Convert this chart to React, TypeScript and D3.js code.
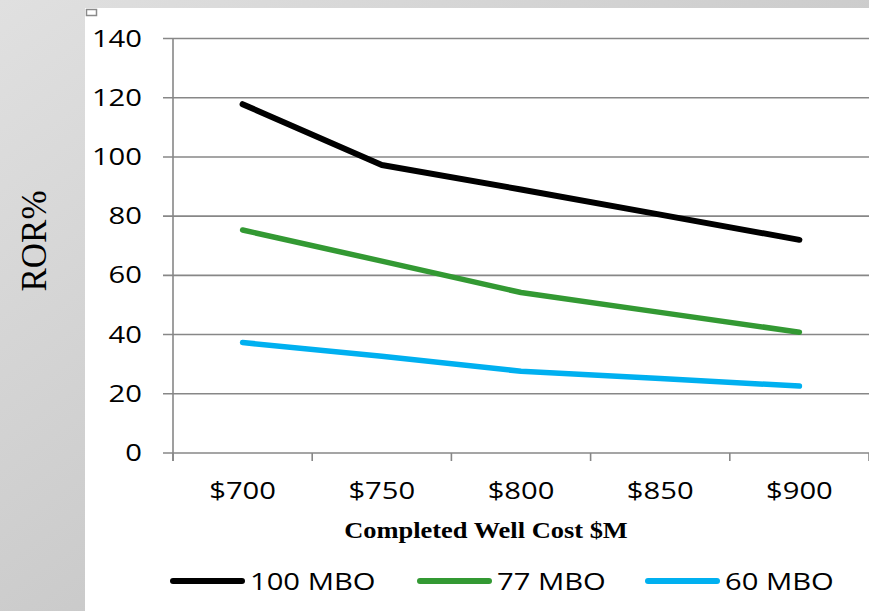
import React from "react";
import * as d3 from "d3";

const categories = ["$700", "$750", "$800", "$850", "$900"];
const yTicks = [0, 20, 40, 60, 80, 100, 120, 140];
const series100 = [117.8, 97.3, 89, 80.5, 72];
const series77 = [75.3, 64.8, 54.2, 47.5, 40.8];
const series60 = [37.3, 32.7, 27.6, 25.2, 22.6];
const seriesNames = ["100 MBO", "77 MBO", "60 MBO"];
const seriesColors = ["#000000", "#339933", "#00b0f0"];

const W = 869;
const H = 611;

export default function App() {
  const x = d3.scaleBand<string>().domain(categories).range([173, 869]).padding(0);
  const y = d3.scaleLinear().domain([0, 140]).range([453, 38.5]);
  const line = d3
    .line<number>()
    .x((_, i) => (x(categories[i]) as number) + x.bandwidth() / 2)
    .y((d) => y(d));
  const allSeries = [series100, series77, series60];
  const widths = [6, 5.5, 5.5];
  const legendX = [173, 420, 648];
  const sans = "'Open Sans', sans-serif";
  const serif = "'Liberation Serif', 'Times New Roman', serif";
  const grid = "#878787";
  const boundaries = [...categories.map((c) => x(c) as number), 869];

  return (
    <svg
      width={W}
      height={H}
      style={{ position: "absolute", left: 0, top: 0, display: "block" }}
    >
      <defs>
        <linearGradient id="bg" x1="0" y1="0" x2="1" y2="1">
          <stop offset="0" stopColor="#e0e0e0" />
          <stop offset="1" stopColor="#b9b9b9" />
        </linearGradient>
      </defs>
      <rect x={0} y={0} width={W} height={H} fill="url(#bg)" />
      <rect x={85} y={8} width={W - 85} height={H - 8} fill="#ffffff" />
      <rect x={86.5} y={9.5} width={10} height={6} fill="#fff" stroke="#8a8a8a" strokeWidth={1.5} />

      {/* gridlines + y ticks */}
      {yTicks.map((t) => (
        <g key={t}>
          <line x1={163} x2={869} y1={y(t)} y2={y(t)} stroke={grid} strokeWidth={1.6} />
          <text
            transform={`translate(142,${y(t) + 8}) scale(1.27,1)`}
            textAnchor="end"
            fontFamily={sans}
            fontSize={23}
            fill="#000"
          >
            {t}
          </text>
        </g>
      ))}
      {/* y axis */}
      <line x1={173} x2={173} y1={y(140)} y2={461} stroke={grid} strokeWidth={1.6} />
      {/* x ticks */}
      {boundaries.map((b, i) => (
        <line key={i} x1={b} x2={b} y1={y(0)} y2={461} stroke={grid} strokeWidth={1.6} />
      ))}
      {categories.map((c) => (
        <text
          key={c}
          transform={`translate(${(x(c) as number) + x.bandwidth() / 2},499) scale(1.27,1)`}
          textAnchor="middle"
          fontFamily={sans}
          fontSize={23}
          fill="#000"
        >
          {c}
        </text>
      ))}

      {/* series lines */}
      {allSeries.map((s, i) => (
        <path
          key={i}
          d={line(s) || ""}
          fill="none"
          stroke={seriesColors[i]}
          strokeWidth={widths[i]}
          strokeLinecap="round"
          strokeLinejoin="round"
        />
      ))}

      {/* axis titles */}
      <text
        transform={`translate(46,241) rotate(-90)`}
        textAnchor="middle"
        fontFamily={serif}
        fontSize={35}
        fill="#000"
      >
        ROR%
      </text>
      <text
        transform={`translate(486,538) scale(1.15,1)`}
        textAnchor="middle"
        fontFamily={serif}
        fontWeight="bold"
        fontSize={23}
        fill="#000"
      >
        Completed Well Cost $M
      </text>

      {/* legend */}
      {seriesNames.map((n, i) => (
        <g key={n}>
          <line
            x1={legendX[i]}
            x2={legendX[i] + 69}
            y1={581}
            y2={581}
            stroke={seriesColors[i]}
            strokeWidth={6}
            strokeLinecap="round"
          />
          <text
            transform={`translate(${legendX[i] + 77},590) scale(1.27,1)`}
            fontFamily={sans}
            fontSize={23}
            fill="#000"
          >
            {n}
          </text>
        </g>
      ))}
    </svg>
  );
}
